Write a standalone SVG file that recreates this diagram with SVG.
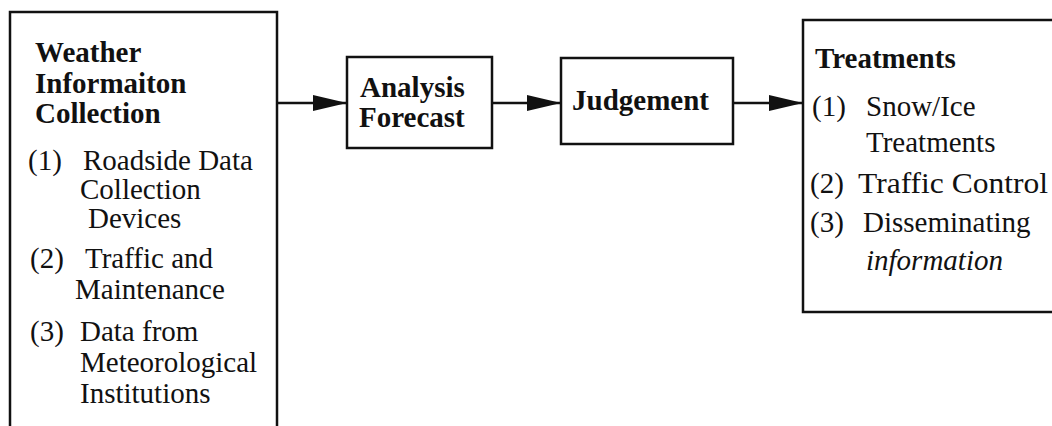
<svg xmlns="http://www.w3.org/2000/svg" width="1052" height="426" viewBox="0 0 1052 426">
<style>
  .box { fill: none; stroke: #111; stroke-width: 2.5; }
  .t { font-family: "Liberation Serif", "Times New Roman", serif; font-size: 29px; fill: #111; }
  .b { font-weight: bold; }
  .i { font-style: italic; }
  .conn { stroke: #111; stroke-width: 2.5; fill: none; marker-end: url(#arrow); }
</style>
<defs>
  <marker id="arrow" markerUnits="userSpaceOnUse" markerWidth="36" markerHeight="18" refX="34" refY="9" orient="auto">
    <path d="M0,1 L34,9 L0,17 z" fill="#111"/>
  </marker>
</defs>
<rect width="1052" height="426" fill="#fff"/>

<g id="node-weather">
  <rect class="box" x="10" y="12" width="267" height="430"/>
  <text class="t b" x="35" y="62">Weather</text>
  <text class="t b" x="35" y="93">Informaiton</text>
  <text class="t b" x="35" y="123">Collection</text>
  <text class="t" x="28" y="170">(1)</text>
  <text class="t" x="83" y="170">Roadside Data</text>
  <text class="t" x="80" y="199">Collection</text>
  <text class="t" x="88" y="228">Devices</text>
  <text class="t" x="30" y="268">(2)</text>
  <text class="t" x="85" y="268">Traffic and</text>
  <text class="t" x="75" y="299">Maintenance</text>
  <text class="t" x="30" y="341">(3)</text>
  <text class="t" x="80" y="341">Data from</text>
  <text class="t" x="80" y="372">Meteorological</text>
  <text class="t" x="80" y="403">Institutions</text>
</g>

<g id="node-analysis">
  <rect class="box" x="347" y="57" width="145" height="91"/>
  <text class="t b" x="360" y="97">Analysis</text>
  <text class="t b" x="359" y="127">Forecast</text>
</g>

<g id="node-judgement">
  <rect class="box" x="561" y="58" width="172" height="86"/>
  <text class="t b" x="572" y="110">Judgement</text>
</g>

<g id="node-treatments">
  <rect class="box" x="803" y="20" width="270" height="292"/>
  <text class="t b" x="815" y="68">Treatments</text>
  <text class="t" x="812" y="116">(1)</text>
  <text class="t" x="866" y="116">Snow/Ice</text>
  <text class="t" x="866" y="152">Treatments</text>
  <text class="t" x="810" y="193">(2)</text>
  <text class="t" x="858" y="193" textLength="190" lengthAdjust="spacingAndGlyphs">Traffic Control</text>
  <text class="t" x="810" y="232">(3)</text>
  <text class="t" x="863" y="232">Disseminating</text>
  <text class="t i" x="866" y="270">information</text>
</g>

<g id="connectors">
  <line class="conn" x1="277" y1="103" x2="347" y2="103"/>
  <line class="conn" x1="492" y1="103" x2="561" y2="103"/>
  <line class="conn" x1="733" y1="103" x2="803" y2="103"/>
</g>
</svg>
